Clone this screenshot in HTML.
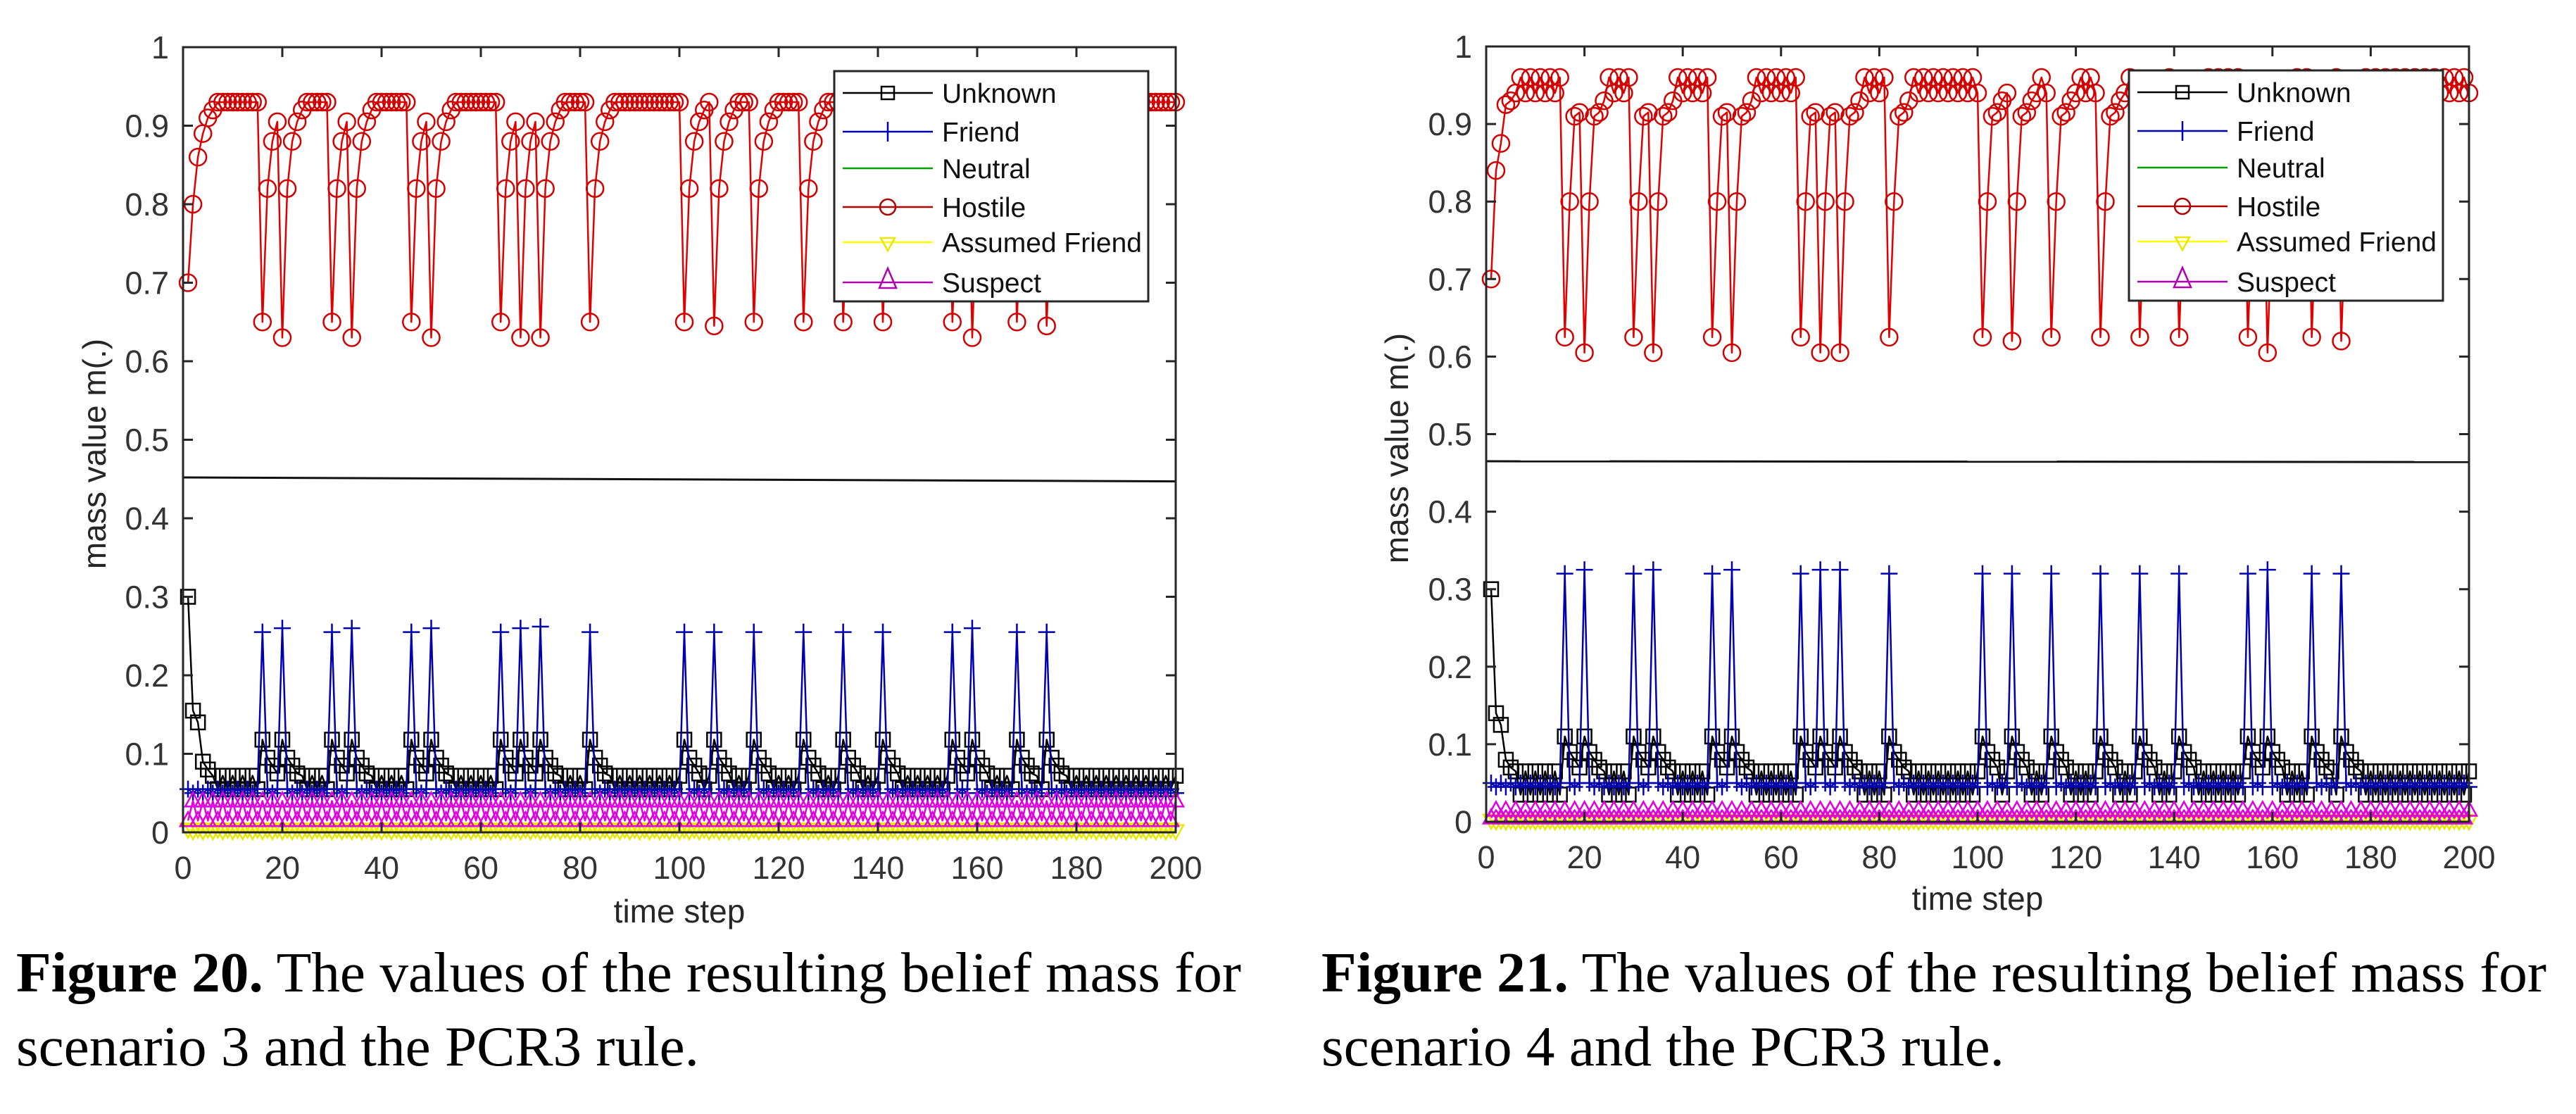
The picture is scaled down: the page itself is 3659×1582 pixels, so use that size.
<!DOCTYPE html>
<html><head><meta charset="utf-8"><style>
html,body{margin:0;padding:0;background:#fff;}
svg{display:block;}
</style></head><body>
<svg id="root" width="3659" height="1582" viewBox="0 0 3659 1582" xmlns="http://www.w3.org/2000/svg">
<rect width="3659" height="1582" fill="#fff"/>
<g id="c20"></g>
<g id="c21"></g>
<text x="23" y="1408" font-family="'Liberation Serif',serif" font-size="80" textLength="1740" lengthAdjust="spacingAndGlyphs"><tspan font-weight="bold">Figure 20.</tspan> The values of the resulting belief mass for</text>
<text x="23" y="1513" font-family="'Liberation Serif',serif" font-size="80" textLength="970" lengthAdjust="spacingAndGlyphs">scenario 3 and the PCR3 rule.</text>
<text x="1877" y="1408" font-family="'Liberation Serif',serif" font-size="80" textLength="1740" lengthAdjust="spacingAndGlyphs"><tspan font-weight="bold">Figure 21.</tspan> The values of the resulting belief mass for</text>
<text x="1877" y="1513" font-family="'Liberation Serif',serif" font-size="80" textLength="970" lengthAdjust="spacingAndGlyphs">scenario 4 and the PCR3 rule.</text>
</svg>
<script>
// ---- shared data ----
const timeSteps = 200;
const dipTimes = [16,20,30,34,46,50,64,68,72,82,101,107,115,125,133,141,155,159,168,174];
const xTicks = [0,20,40,60,80,100,120,140,160,180,200];
const yTicks = [0,0.1,0.2,0.3,0.4,0.5,0.6,0.7,0.8,0.9,1];
const yTickLabels = ["0","0.1","0.2","0.3","0.4","0.5","0.6","0.7","0.8","0.9","1"];
const legendLabels = ["Unknown","Friend","Neutral","Hostile","Assumed Friend","Suspect"];

// ---- scenario 3 (Figure 20) ----
const s3HostileStart = [0.70,0.80,0.86,0.89,0.91,0.92];
const s3HostileBase = [0.93,0.93];
const s3HostileDips = [0.65,0.63,0.65,0.63,0.65,0.63,0.65,0.63,0.63,0.65,0.65,0.645,0.65,0.65,0.65,0.65,0.65,0.63,0.65,0.645];
const s3HostileRecovery = [0.82,0.88,0.905,0.92];
const s3FriendPeaks = [0.255,0.26,0.255,0.26,0.255,0.26,0.255,0.26,0.262,0.255,0.255,0.255,0.255,0.255,0.255,0.255,0.255,0.26,0.255,0.255];
const s3FriendBase = [0.05,0.055];
const s3UnknownStart = [0.30,0.155,0.14,0.09,0.08];
const s3UnknownBase = [0.072,0.055];
const s3UnknownAfterDip = [0.118,0.095,0.085,0.075];
const s3SuspectBase = [0.04,0.015];
const s3AssumedBase = [0.002,0.004];
const s3NeutralBase = [0.0,0.0];
const s3FlatLine = [0.452,0.447];

// ---- scenario 4 (Figure 21) ----
const s4HostileStart = [0.70,0.84,0.875,0.925,0.93,0.94];
const s4HostileBase = [0.94,0.96];
const s4HostileDips = [0.625,0.605,0.625,0.605,0.625,0.605,0.625,0.605,0.605,0.625,0.625,0.62,0.625,0.625,0.625,0.625,0.625,0.605,0.625,0.62];
const s4HostileRecovery = [0.80,0.91,0.915,0.93];
const s4FriendPeaks = [0.32,0.325,0.32,0.325,0.32,0.325,0.32,0.325,0.325,0.32,0.32,0.32,0.32,0.32,0.32,0.32,0.32,0.325,0.32,0.32];
const s4FriendBase = [0.045,0.05];
const s4UnknownStart = [0.30,0.14,0.125,0.08,0.07];
const s4UnknownBase = [0.065,0.035];
const s4UnknownAfterDip = [0.11,0.09,0.08,0.07];
const s4SuspectBase = [0.015,0.005];
const s4AssumedBase = [0.001,0.002];
const s4NeutralBase = [0.0,0.0];
const s4FlatLine = [0.465,0.464];

const NS = "http://www.w3.org/2000/svg";
function mk(parent, tag, attrs){
  const e = document.createElementNS(NS, tag);
  for (const k in attrs) e.setAttribute(k, attrs[k]);
  parent.appendChild(e);
  return e;
}
function baseSeries(base){ const a=[]; for(let t=1;t<=timeSteps;t++) a.push(base[t%2]); return a; }
function applyStart(a, start){ for(let i=0;i<start.length;i++) a[i]=start[i]; }
function hostileSeries(start, base, dips, rec){
  const a = baseSeries(base); applyStart(a,start);
  dipTimes.forEach((t,i)=>{ a[t-1]=dips[i]; rec.forEach((v,j)=>{ const k=t+j; if(k<timeSteps && !dipTimes.includes(k+1)) a[k]=v; }); });
  return a;
}
function peakSeries(base, peaks){
  const a = baseSeries(base);
  dipTimes.forEach((t,i)=>{ a[t-1]=peaks[i]; });
  return a;
}
function unknownSeries(start, base, after){
  const a = baseSeries(base); applyStart(a,start);
  dipTimes.forEach((t)=>{ after.forEach((v,j)=>{ const k=t-1+j; if(k<timeSteps) a[k]=v; }); });
  return a;
}

function drawChart(g, box, d, prefix){
  const {x0,x1,yT,yB} = box;
  const X = v => x0 + (x1-x0)*v/timeSteps;
  const Y = v => yB - (yB-yT)*v;
  const font = "'Liberation Sans',Arial,sans-serif";
  const cp = mk(g,'clipPath',{id:prefix+'clip'});
  mk(cp,'rect',{x:x0-14,y:yT,width:x1-x0+28,height:yB-yT+14});
  const plot = mk(g,'g',{'clip-path':'url(#'+prefix+'clip)'});
  
  
  function line(arr,color,w,name){
    const p = arr.map((v,i)=>X(i+1).toFixed(1)+','+Y(v).toFixed(1)).join(' ');
    const pl = mk(plot,'polyline',{points:p,fill:'none',stroke:color,'stroke-width':w,'stroke-linejoin':'round'});
    
    
  }
  function markers(arr,kind,color,name){
    const mg = mk(plot,'g',{fill:'none',stroke:color,'stroke-width':2.5});
    
    
    arr.forEach((v,i)=>{
      const cx=X(i+1), cy=Y(v);
      if(kind==='sq') mk(mg,'rect',{x:cx-10,y:cy-10,width:20,height:20});
      else if(kind==='o') mk(mg,'circle',{cx:cx,cy:cy,r:12});
      else if(kind==='+') mk(mg,'path',{d:`M${cx-12},${cy}H${cx+12}M${cx},${cy-12}V${cy+12}`});
      else if(kind==='tri') mk(mg,'path',{d:`M${cx},${cy-12}L${cx+11},${cy+8}L${cx-11},${cy+8}Z`});
      else if(kind==='vtri') mk(mg,'path',{d:`M${cx},${cy+12}L${cx+11},${cy-8}L${cx-11},${cy-8}Z`});
    });
  }
  const fl = mk(plot,'line',{x1:x0,y1:Y(d.flat[0]),x2:x1,y2:Y(d.flat[1]),stroke:'#111','stroke-width':3});
  
  
  line(d.unknown,'#000',2.5,'unknown'); markers(d.unknown,'sq','#000','unknown');
  line(d.friend,'#0000b0',2.5,'friend'); markers(d.friend,'+','#0000b0','friend');
  line(d.neutral,'#00b000',2.5,'neutral');
  line(d.hostile,'#e00000',2.5,'hostile'); markers(d.hostile,'o','#d00000','hostile');
  line(d.assumed,'#ffff00',2.5,'assumed-friend'); markers(d.assumed,'vtri','#e8e800','assumed-friend');
  line(d.suspect,'#e000e0',2.5,'suspect'); markers(d.suspect,'tri','#e000e0','suspect');
  const ax = mk(g,'rect',{x:x0,y:yT,width:x1-x0,height:yB-yT,fill:'none',stroke:'#262626','stroke-width':3});
  
  
  xTicks.forEach(v=>{
    const x=X(v);
    mk(g,'path',{d:`M${x},${yB}V${yB-14}M${x},${yT}V${yT+14}`,stroke:'#262626','stroke-width':3});
    const t = mk(g,'text',{x:x,y:yB+66,'text-anchor':'middle','font-family':font,'font-size':45,fill:'#333'});
    t.textContent = String(v);
    
    
  });
  yTicks.forEach((v,i)=>{
    const y=Y(v);
    mk(g,'path',{d:`M${x0},${y}H${x0+14}M${x1},${y}H${x1-14}`,stroke:'#262626','stroke-width':3});
    const t = mk(g,'text',{x:x0-20,y:y+16,'text-anchor':'end','font-family':font,'font-size':45,fill:'#333'});
    t.textContent = yTickLabels[i];
    
    
  });
  const xl = mk(g,'text',{x:(x0+x1)/2,y:box.xlY,'text-anchor':'middle','font-family':font,'font-size':46,fill:'#262626'});
  xl.textContent='time step';
  
  
  const yl = mk(g,'text',{x:0,y:0,'text-anchor':'middle','font-family':font,'font-size':46,fill:'#262626',transform:`translate(${box.ylX},${(yT+yB)/2+20}) rotate(-90)`});
  yl.textContent='mass value m(.)';
  
  
  const lg = mk(g,'g',{});
  
  
  const lx0=box.lx, ly0=yT+34, lw=446, lh=327;
  mk(lg,'rect',{x:lx0,y:ly0,width:lw,height:lh,fill:'#fff',stroke:'#262626','stroke-width':3});
  const colors=['#000','#0000b0','#00a000','#b00000','#ffff00','#b000b0'];
  const kinds=['sq','+','','o','vtri','tri'];
  const rowY=[31,86,138,193,243,300];
  legendLabels.forEach((lab,i)=>{
    const y=ly0+rowY[i];
    const e = mk(lg,'g',{});
    
    
    mk(e,'line',{x1:lx0+12,y1:y,x2:lx0+140,y2:y,stroke:colors[i],'stroke-width':2.5});
    const cx=lx0+76, k=kinds[i], c=colors[i]==='#ffff00'?'#e8e800':colors[i];
    if(k==='sq') mk(e,'rect',{x:cx-9,y:y-9,width:18,height:18,fill:'none',stroke:c,'stroke-width':2.5});
    if(k==='+') mk(e,'path',{d:`M${cx},${y-14}V${y+14}`,stroke:c,'stroke-width':2.5});
    if(k==='o') mk(e,'circle',{cx:cx,cy:y,r:11,fill:'none',stroke:c,'stroke-width':2.5});
    if(k==='vtri') mk(e,'path',{d:`M${cx},${y+12}L${cx+10},${y-6}L${cx-10},${y-6}Z`,fill:'none',stroke:c,'stroke-width':2.5});
    if(k==='tri') mk(e,'path',{d:`M${cx},${y-20}L${cx+12},${y+8}L${cx-12},${y+8}Z`,fill:'none',stroke:c,'stroke-width':2.5});
    const t = mk(e,'text',{x:lx0+153,y:y+14,'font-family':font,'font-size':39,fill:'#111'});
    t.textContent=lab;
  });
}

const d3 = {
  hostile: hostileSeries(s3HostileStart,s3HostileBase,s3HostileDips,s3HostileRecovery),
  friend: peakSeries(s3FriendBase,s3FriendPeaks),
  unknown: unknownSeries(s3UnknownStart,s3UnknownBase,s3UnknownAfterDip),
  suspect: baseSeries(s3SuspectBase),
  assumed: baseSeries(s3AssumedBase),
  neutral: baseSeries(s3NeutralBase),
  flat: s3FlatLine
};
const d4 = {
  hostile: hostileSeries(s4HostileStart,s4HostileBase,s4HostileDips,s4HostileRecovery),
  friend: peakSeries(s4FriendBase,s4FriendPeaks),
  unknown: unknownSeries(s4UnknownStart,s4UnknownBase,s4UnknownAfterDip),
  suspect: baseSeries(s4SuspectBase),
  assumed: baseSeries(s4AssumedBase),
  neutral: baseSeries(s4NeutralBase),
  flat: s4FlatLine
};
drawChart(document.getElementById('c20'), {x0:260,x1:1670,yT:67,yB:1182,lx:1185,xlY:1310,ylX:150}, d3, 'a');
drawChart(document.getElementById('c21'), {x0:2111,x1:3507,yT:66,yB:1167,lx:3024,xlY:1292,ylX:2000}, d4, 'b');
</script>
</body></html>
